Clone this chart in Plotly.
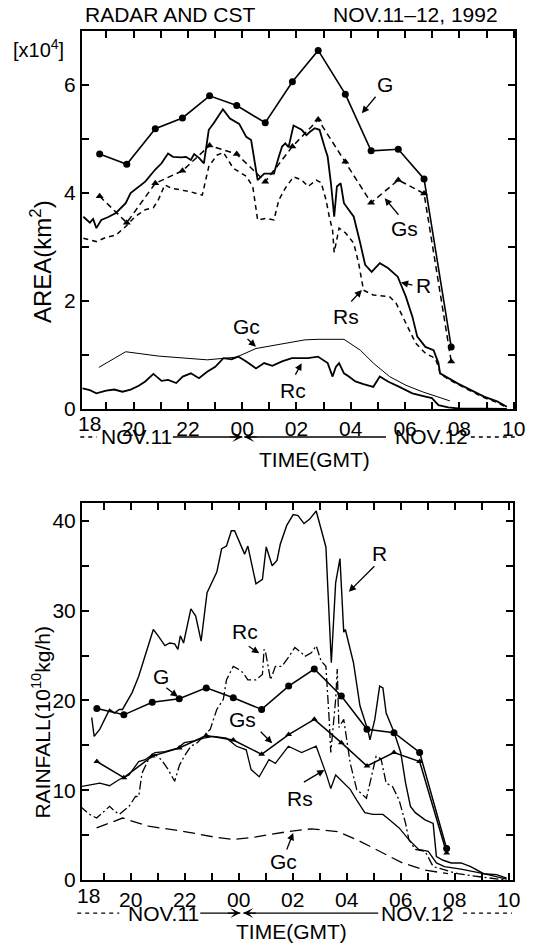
import plotly.graph_objects as go

# ---------------- DATA ----------------
# hours since 00 GMT Nov 11 (values > 24 are Nov 12)
hours_G = [18.75, 19.75, 20.8, 21.8, 22.8, 23.8, 24.85, 25.85, 26.8, 27.8, 28.75, 29.75, 30.7, 31.7]
area_G = [4.72, 4.53, 5.19, 5.39, 5.80, 5.62, 5.30, 6.06, 6.64, 5.83, 4.78, 4.81, 4.26, 1.15]
area_Gs = [3.94, 3.45, 4.18, 4.41, 4.88, 4.72, 4.21, 4.86, 5.36, 4.58, 3.82, 4.24, 3.99, 0.88]

t_area_Gc = [18.72, 19.71, 20.91, 22.71, 23.79, 24.51, 26.31, 26.79, 27.75, 28.35, 28.83, 29.43, 30.03, 30.63, 31.65]
area_Gc = [0.77, 1.06, 0.98, 0.91, 0.96, 1.12, 1.28, 1.29, 1.29, 1.09, 0.85, 0.60, 0.44, 0.32, 0.15]

t_area_R = [18.15, 18.39, 18.51, 18.63, 18.81, 19.05, 19.35, 19.71, 19.89, 20.19, 20.43, 20.79, 21.03, 21.27,
            21.45, 21.75, 21.93, 22.11, 22.23, 22.41, 22.59, 22.77, 22.95, 23.29, 23.55, 23.89, 24.15, 24.33,
            24.57, 24.81, 25.17, 25.35, 25.47, 25.59, 25.71, 25.89, 26.19, 26.37, 26.49, 26.67, 26.85, 27.03,
            27.15, 27.27, 27.39, 27.49, 27.63, 27.75, 27.93, 28.11, 28.35, 28.53, 28.77, 29.07, 29.37, 29.73,
            30.03, 30.27, 30.45, 30.75, 31.05, 31.23, 31.29, 31.59, 31.95, 32.43, 32.91, 33.39, 33.75]
area_R = [3.56, 3.45, 3.52, 3.35, 3.50, 3.55, 3.63, 3.81, 4.00, 4.12, 4.21, 4.43, 4.55, 4.73,
          4.67, 4.66, 4.67, 4.61, 4.72, 4.65, 4.55, 5.17, 5.29, 5.55, 5.38, 5.28, 5.04, 4.98,
          4.24, 4.36, 4.36, 4.67, 4.86, 4.92, 4.85, 5.25, 5.17, 5.07, 5.13, 5.20, 5.17, 4.86,
          4.67, 4.18, 3.56, 4.12, 4.18, 3.81, 3.69, 3.56, 3.07, 2.67, 2.54, 2.70, 2.61, 2.45,
          2.08, 1.71, 1.34, 1.15, 1.09, 0.85, 0.66, 0.57, 0.47, 0.35, 0.23, 0.14, 0.04]

t_area_Rs = [18.15, 18.39, 18.63, 18.99, 19.35, 19.71, 20.07, 20.43, 20.73, 20.91, 21.15, 21.39, 21.75, 22.11,
             22.53, 22.77, 23.07, 23.31, 23.67, 24.15, 24.39, 24.57, 24.87, 25.17, 25.35, 25.59, 25.89, 26.19,
             26.43, 26.73, 26.91, 27.09, 27.21, 27.33, 27.39, 27.57, 27.81, 28.11, 28.29, 28.47, 28.83, 29.43,
             29.67, 30.03, 30.39, 30.75, 31.11, 31.23, 31.29, 31.59, 31.95, 32.43, 32.91, 33.39, 33.75]
area_Rs = [3.16, 3.13, 3.10, 3.18, 3.22, 3.38, 3.57, 3.69, 3.73, 3.87, 4.15, 4.09, 4.06, 4.02,
           3.96, 4.49, 4.70, 4.75, 4.46, 4.31, 4.12, 3.50, 3.53, 3.50, 3.87, 4.09, 4.30, 4.24,
           4.12, 4.24, 4.19, 3.87, 3.56, 3.31, 2.90, 3.35, 3.26, 3.07, 2.70, 2.20, 2.11, 2.08,
           1.96, 1.59, 1.22, 1.03, 0.94, 0.78, 0.66, 0.55, 0.45, 0.33, 0.21, 0.12, 0.03]

t_area_Rc = [18.12, 18.39, 18.63, 18.99, 19.29, 19.59, 19.89, 20.19, 20.43, 20.73, 21.03, 21.27, 21.57, 21.81,
             22.11, 22.41, 22.71, 23.01, 23.31, 23.61, 23.85, 24.15, 24.51, 24.81, 25.11, 25.47, 25.83, 26.19,
             26.43, 26.79, 27.15, 27.33, 27.45, 27.57, 27.75, 27.93, 28.17, 28.47, 28.83, 29.07, 29.37, 29.79,
             30.27, 30.75, 30.99, 31.23, 31.59, 31.95, 33.75]
area_Rc = [0.38, 0.35, 0.29, 0.34, 0.36, 0.32, 0.36, 0.43, 0.51, 0.65, 0.52, 0.54, 0.48, 0.60,
           0.66, 0.57, 0.69, 0.78, 0.94, 0.92, 0.97, 0.88, 0.75, 0.85, 0.80, 0.88, 0.94, 0.94,
           0.94, 0.97, 0.85, 0.60, 0.78, 0.85, 0.66, 0.60, 0.51, 0.46, 0.41, 0.60, 0.51, 0.41,
           0.29, 0.23, 0.20, 0.07, 0.03, 0.01, 0.0]

# Rainfall (10^10 kg/h)
rain_G = [19.1, 18.4, 19.8, 20.2, 21.4, 20.3, 19.0, 21.6, 23.5, 20.5, 16.8, 16.4, 14.2, 3.5]
rain_Gs = [13.2, 11.4, 13.8, 14.7, 16.1, 15.6, 14.0, 16.2, 17.9, 15.3, 12.7, 14.2, 13.2, 3.0]

t_rain_Gc = [18.74, 19.70, 20.66, 21.99, 23.07, 23.80, 24.64, 25.84, 26.69, 27.65, 28.37, 29.22, 30.06, 30.90, 31.75]
rain_Gc = [5.8, 6.9, 6.0, 5.4, 4.8, 4.5, 4.8, 5.4, 5.7, 5.4, 4.5, 3.2, 1.9, 1.1, 0.7]

t_rain_R = [18.56, 18.65, 18.86, 19.22, 19.40, 19.58, 19.70, 20.06, 20.30, 20.60, 20.84, 21.02, 21.27, 21.45,
            21.63, 21.75, 21.84, 21.96, 22.23, 22.41, 22.61, 22.83, 23.19, 23.37, 23.55, 23.73, 23.85, 24.22,
            24.34, 24.64, 24.88, 25.02, 25.24, 25.42, 25.54, 25.78, 26.02, 26.20, 26.42, 26.63, 26.87, 27.23,
            27.43, 27.59, 27.75, 27.89, 27.95, 28.25, 28.49, 28.79, 28.86, 29.04, 29.22, 29.34, 29.46, 29.76,
            30.00, 30.18, 30.36, 30.54, 30.90, 31.20, 31.32, 31.57, 31.87, 32.23, 32.59, 33.07, 33.55, 33.92]
rain_R = [18.1, 16.0, 16.8, 19.0, 18.6, 19.0, 19.0, 20.9, 22.7, 25.7, 27.9, 27.2, 26.1, 26.4,
          26.3, 25.7, 27.2, 26.4, 30.2, 29.4, 26.6, 32.0, 34.3, 36.9, 37.2, 38.9, 38.9, 36.3,
          37.2, 33.0, 33.5, 37.1, 35.0, 35.6, 37.4, 39.5, 40.7, 40.6, 39.7, 40.2, 41.1, 37.1,
          24.2, 33.1, 35.8, 27.6, 27.9, 24.2, 19.4, 16.6, 15.6, 17.9, 21.6, 21.4, 18.6, 16.4,
          14.2, 10.8, 8.2, 7.5, 6.7, 6.3, 2.6, 2.2, 1.9, 1.9, 1.5, 0.7, 0.6, 0.2]

t_rain_Rs = [18.13, 18.49, 18.86, 19.22, 19.58, 19.94, 20.30, 20.54, 20.90, 21.27, 21.75, 21.99, 22.35, 22.71,
             23.07, 23.55, 23.92, 24.28, 24.46, 24.76, 25.12, 25.36, 25.84, 26.33, 26.87, 27.23, 27.41, 27.59,
             27.83, 28.13, 28.37, 28.67, 28.97, 29.34, 29.58, 29.94, 30.30, 30.66, 31.02, 31.32, 31.62, 32.23,
             33.07, 33.92]
rain_Rs = [10.4, 10.6, 10.8, 10.5, 11.2, 11.7, 13.2, 13.4, 14.2, 14.3, 14.7, 15.3, 15.5, 15.8,
           16.0, 15.8, 14.9, 14.5, 12.3, 11.5, 13.4, 13.0, 14.9, 14.2, 14.9, 11.9, 10.2, 11.7,
           11.0, 10.1, 8.9, 7.5, 7.3, 7.3, 6.7, 5.8, 4.5, 3.4, 3.2, 1.9, 1.5, 1.2,
           0.7, 0.1]

t_rain_Rc = [18.13, 18.49, 18.74, 19.22, 19.40, 19.58, 19.94, 20.18, 20.30, 20.42, 20.66, 20.90, 21.14, 21.39,
             21.63, 21.81, 21.99, 22.23, 22.47, 22.71, 22.95, 23.19, 23.43, 23.55, 23.80, 23.98, 24.16, 24.34,
             24.64, 24.88, 24.94, 25.00, 25.18, 25.36, 25.60, 25.84, 26.08, 26.33, 26.45, 26.69, 26.87, 27.05,
             27.23, 27.35, 27.41, 27.59, 27.65, 27.71, 27.89, 28.13, 28.37, 28.73, 28.91, 29.09, 29.27, 29.46,
             29.70, 29.94, 30.18, 30.30, 30.54, 30.90, 31.20, 31.62, 32.11, 33.07, 33.92]
rain_Rc = [8.2, 7.3, 6.9, 8.2, 7.7, 7.3, 8.2, 9.3, 9.3, 11.9, 13.4, 14.0, 13.4, 12.3,
           11.0, 12.8, 13.8, 14.9, 15.3, 16.0, 16.8, 19.0, 20.1, 22.3, 23.8, 23.5, 23.1, 22.3,
           22.3, 22.9, 25.7, 25.3, 22.3, 23.8, 23.8, 24.8, 25.9, 25.3, 24.9, 25.3, 26.1, 24.4,
           23.8, 17.9, 14.2, 20.1, 23.5, 17.0, 17.9, 13.0, 10.1, 9.1, 11.5, 13.8, 13.5, 10.8,
           10.4, 8.9, 6.3, 4.5, 3.4, 3.2, 1.5, 1.1, 0.7, 0.3, 0.0]

hour_tickvals = [20, 22, 24, 26, 28, 30, 32, 34]
hour_ticktext = ["20", "22", "00", "02", "04", "06", "08", "10"]
hour_minor = [19, 21, 23, 25, 27, 29, 31, 33]
area_tickvals = [0, 2, 4, 6]
rain_tickvals = [0, 10, 20, 30, 40]

# ---------------- FIGURE ----------------
FONT = "Liberation Sans, Arial, sans-serif"
K = "black"
fig = go.Figure()

def line(x, y, xa, ya, width=1.6, dash="solid", marker=None):
    tr = dict(x=x, y=y, xaxis=xa, yaxis=ya, mode="lines", showlegend=False,
              line=dict(color=K, width=width, dash=dash), hoverinfo="skip")
    if marker:
        tr["mode"] = "lines+markers"
        tr["marker"] = dict(symbol=marker[0], size=marker[1], color=K)
    fig.add_trace(go.Scatter(**tr))

# top panel
line(t_area_Gc, area_Gc, "x", "y", width=1.0)
line(t_area_Rc, area_Rc, "x", "y", width=1.8)
line(t_area_Rs, area_Rs, "x", "y", width=1.5, dash="5px,4px")
line(t_area_R, area_R, "x", "y", width=1.8)
line(hours_G, area_Gs, "x", "y", width=1.5, dash="6px,4px", marker=("triangle-up", 7))
line(hours_G, area_G, "x", "y", width=1.6, marker=("circle", 7))

# bottom panel
line(t_rain_Gc, rain_Gc, "x2", "y2", width=1.3, dash="12px,6px")
line(t_rain_Rc, rain_Rc, "x2", "y2", width=1.3, dash="9px,3px,2px,3px")
line(t_rain_Rs, rain_Rs, "x2", "y2", width=1.3)
line(t_rain_R, rain_R, "x2", "y2", width=1.4)
line(hours_G, rain_Gs, "x2", "y2", width=1.5, marker=("triangle-up", 6))
line(hours_G, rain_G, "x2", "y2", width=1.5, marker=("circle", 7))

tickfont = dict(family=FONT, size=21, color=K)
xcommon = dict(tickvals=hour_tickvals, ticktext=hour_ticktext, ticks="inside", ticklen=7, tickwidth=1.5,
               tickcolor=K, minor=dict(tickvals=hour_minor, ticks="inside", ticklen=7, tickwidth=1.5, tickcolor=K),
               showline=True, linecolor=K, linewidth=2, mirror="allticks", showgrid=False, zeroline=False,
               tickfont=tickfont, fixedrange=True)
ycommon = dict(ticks="inside", ticklen=7, tickwidth=1.5, tickcolor=K,
               showline=True, linecolor=K, linewidth=2, mirror="allticks", showgrid=False, zeroline=False,
               tickfont=tickfont, fixedrange=True)

fig.update_layout(
    width=536, height=945,
    margin=dict(l=82, r=11, t=31, b=65),
    paper_bgcolor="white", plot_bgcolor="white",
    font=dict(family=FONT, color=K),
    xaxis=dict(domain=[0, 1], range=[18.1, 34.05], anchor="y", **xcommon),
    yaxis=dict(domain=[0.5548, 1.0], range=[0, 7], anchor="x", tickvals=area_tickvals,
               minor=dict(dtick=1, ticks="inside", ticklen=7, tickwidth=1.5, tickcolor=K), **ycommon),
    xaxis2=dict(domain=[0, 0.995], range=[18.2, 34.15], anchor="y2", **xcommon),
    yaxis2=dict(domain=[0, 0.4441], range=[0, 42], anchor="x2", tickvals=rain_tickvals,
                minor=dict(dtick=5, ticks="inside", ticklen=7, tickwidth=1.5, tickcolor=K), **ycommon),
)

ann = []
def text(x, y, s, size=21, xanchor="center", angle=0):
    ann.append(dict(x=x, y=y, xref="paper", yref="paper", text=s, showarrow=False,
                    font=dict(family=FONT, size=size, color=K), xanchor=xanchor, yanchor="middle",
                    textangle=angle))

def arrow(x, y, ax, ay):
    ann.append(dict(x=x, y=y, xref="paper", yref="paper", ax=ax, ay=ay, text="", showarrow=True,
                    arrowhead=2, arrowsize=1.1, arrowwidth=1.3, arrowcolor=K))

# titles
text(0.002, 1.0194, "RADAR AND CST", xanchor="left")
text(0.966, 1.0194, "NOV.11–12, 1992", xanchor="right")
text(-0.1005, 0.9788, "[x10<sup>4</sup>]", size=20)
text(-0.0948, 0.729, "AREA(km<sup>2</sup>)", size=24, angle=-90)
text(-0.0948, 0.1865, "RAINFALL(10<sup>10</sup>kg/h)", size=21, angle=-90)
text(0.018, 0.538, "18")
text(0.0147, -0.0177, "18")

# series labels top
text(0.6991, 0.9364, "G"); arrow(0.6463, 0.9031, 15, -18)
text(0.7442, 0.7676, "Gs"); arrow(0.6991, 0.8030, 15, 18)
text(0.7894, 0.7008, "R"); arrow(0.7366, 0.7039, 13, 3)
text(0.6088, 0.6643, "Rs"); arrow(0.6463, 0.6949, -12, 13)
text(0.3792, 0.6517, "Gc"); arrow(0.4018, 0.6282, -10, -9)
text(0.4883, 0.5771, "Rc"); arrow(0.5072, 0.6088, -7, 13)

# series labels bottom
text(0.6878, 0.3848, "R"); arrow(0.6163, 0.3396, 27, -27)
text(0.3754, 0.2925, "Rc"); arrow(0.4093, 0.2670, -12, -8)
text(0.1835, 0.2395, "G"); arrow(0.2212, 0.2159, -13, -10)
text(0.3716, 0.1885, "Gs"); arrow(0.4393, 0.1610, -13, -13)
text(0.5034, 0.0962, "Rs"); arrow(0.5598, 0.1296, -22, 13)
text(0.4657, 0.0216, "Gc"); arrow(0.4877, 0.0554, -7, 18)

shapes = []
def date_row(y, ty, d1, n11, l1, l2, n12, d2, tcx):
    shapes.append(dict(type="line", xref="paper", yref="paper", x0=d1[0], x1=d1[1], y0=y, y1=y,
                       line=dict(color=K, width=1.3, dash="4px,4px")))
    shapes.append(dict(type="line", xref="paper", yref="paper", x0=d2[0], x1=d2[1], y0=y, y1=y,
                       line=dict(color=K, width=1.3, dash="4px,4px")))
    text(n11, y, "NOV.11")
    text(n12, y, "NOV.12")
    shapes.append(dict(type="line", xref="paper", yref="paper", x0=l1[0], x1=l1[1], y0=y, y1=y,
                       line=dict(color=K, width=1.3)))
    shapes.append(dict(type="line", xref="paper", yref="paper", x0=l2[0], x1=l2[1], y0=y, y1=y,
                       line=dict(color=K, width=1.3)))
    ann.append(dict(x=l1[1], y=y, xref="paper", yref="paper", ax=-14, ay=0, text="", showarrow=True,
                    arrowhead=3, arrowsize=1.4, arrowwidth=1.2, arrowcolor=K))
    ann.append(dict(x=l2[1], y=y, xref="paper", yref="paper", ax=14, ay=0, text="", showarrow=True,
                    arrowhead=3, arrowsize=1.4, arrowwidth=1.2, arrowcolor=K))
    text(tcx, ty, "TIME(GMT)")

date_row(0.5218, 0.4947, (-0.004, 0.034), 0.1253, (0.2099, 0.3702), (0.702, 0.3747), 0.808, (0.898, 1.004), 0.538)
date_row(-0.0389, -0.0612, (-0.011, 0.086), 0.1885, (0.273, 0.3657), (0.684, 0.3725), 0.7754, (0.880, 0.993), 0.483)

fig.update_layout(annotations=ann, shapes=shapes)
fig.write_html("out.html")
